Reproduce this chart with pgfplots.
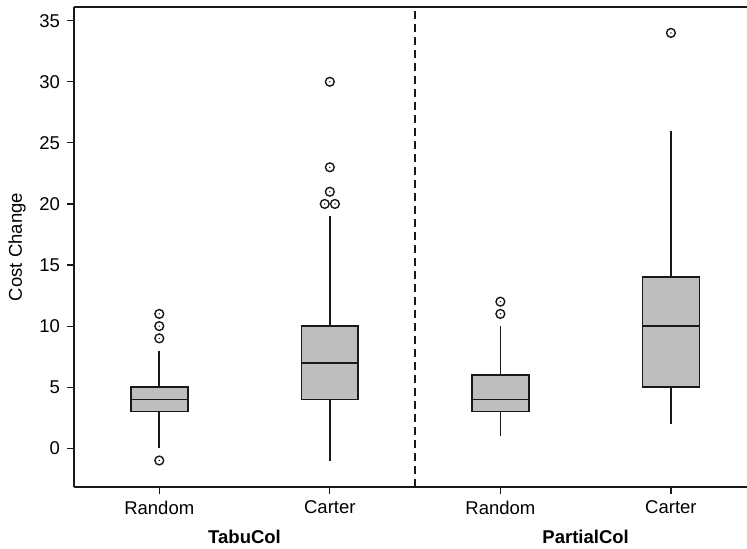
\documentclass[border=0pt]{standalone}
\usepackage{fontspec}
\setmainfont{Liberation Sans}
\usepackage{pgfplots}
\pgfplotsset{compat=1.18}
\usepgfplotslibrary{statistics}
\pgfdeclareplotmark{odot}{%
  \pgfpathcircle{\pgfpointorigin}{\pgfplotmarksize}\pgfusepathqstroke
  \pgfpathcircle{\pgfpointorigin}{0.4pt}\pgfusepathqfill}
\definecolor{boxgray}{RGB}{190,190,190}
\definecolor{ink}{RGB}{25,25,25}
\newcommand\myfont{\fontsize{9.25}{11}\selectfont}
\begin{document}
\begin{tikzpicture}
\begin{axis}[
  width=336.5pt, height=240pt, scale only axis,
  xmin=0.5, xmax=4.446, ymin=-3.17, ymax=36.12,
  separate axis lines,
  axis x line=box, axis y line=left,
  x axis line style={-, ink, line width=0.75pt},
  y axis line style={-, ink, line width=0.75pt},
  xtick={1,2,3,4}, xticklabels={Random,Carter,Random,Carter},
  ytick={0,5,...,35},
  xtick pos=bottom, ytick pos=left,
  tick align=outside, major tick length=3.5pt,
  tick style={ink, line width=0.6pt},
  tick label style={font=\myfont},
  /pgf/number format/assume math mode=true,
  boxplot/draw direction=y,
  boxplot/every median/.style={ink, line width=0.85pt},
  boxplot/every box/.style={draw=ink, fill=boxgray, line width=0.85pt},
  boxplot/every whisker/.style={ink, line width=0.8pt},
  clip=false,
]
% dashed separator
\addplot[ink, line width=0.7pt, dash pattern=on 4pt off 2.5pt] coordinates {(2.5,-3.17) (2.5,36.12)};
% TabuCol Random
\addplot[boxplot prepared={draw position=1, median=4, upper quartile=5, lower quartile=3, upper whisker=8, lower whisker=0, box extend=0.334, whisker extend=0}, draw=ink, fill=boxgray, line width=0.85pt] coordinates {};
% TabuCol Carter
\addplot[boxplot prepared={draw position=2, median=7, upper quartile=10, lower quartile=4, upper whisker=19, lower whisker=-1, box extend=0.334, whisker extend=0}, draw=ink, fill=boxgray, line width=0.85pt] coordinates {};
% PartialCol Random
\addplot[boxplot prepared={draw position=3, median=4, upper quartile=6, lower quartile=3, upper whisker=10, lower whisker=1, box extend=0.334, whisker extend=0}, draw=ink, fill=boxgray, line width=0.85pt] coordinates {};
% PartialCol Carter
\addplot[boxplot prepared={draw position=4, median=10, upper quartile=14, lower quartile=5, upper whisker=26, lower whisker=2, box extend=0.334, whisker extend=0}, draw=ink, fill=boxgray, line width=0.85pt] coordinates {};
% outliers
\addplot[only marks, mark=odot, mark size=2.2pt, ink, line width=0.7pt] coordinates {
  (1,11) (1,10) (1,9) (1,-1)
  (2,30) (2,23) (2,21) (1.97,20) (2.03,20)
  (3,12) (3,11)
  (4,34)
};
\coordinate (BL) at (rel axis cs:0,0);
\node[rotate=90, font=\myfont] at ([xshift=-28.5pt]rel axis cs:0,0.5) {Cost Change};
\node[font=\myfont\bfseries] at ([yshift=-25pt]axis cs:1.5,-3.17) {TabuCol};
\node[font=\myfont\bfseries] at ([yshift=-25pt]axis cs:3.5,-3.17) {PartialCol};
\end{axis}
\pgfresetboundingbox
\path ([xshift=-37pt,yshift=-30.5pt]BL) rectangle ([xshift=336.5pt,yshift=243.5pt]BL);
\end{tikzpicture}
\end{document}
